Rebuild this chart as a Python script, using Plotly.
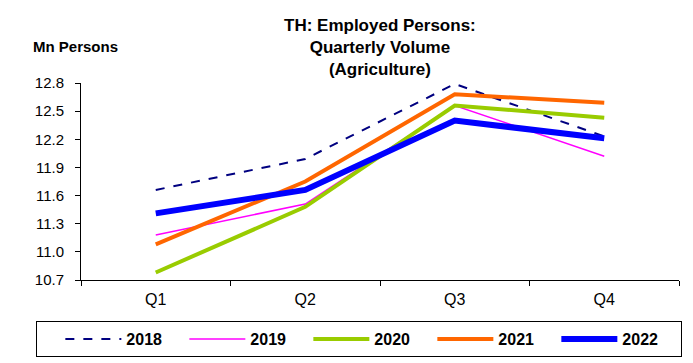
import plotly.graph_objects as go

quarters = ["Q1", "Q2", "Q3", "Q4"]
v2018 = [11.66, 11.99, 12.79, 12.23]
v2019 = [11.18, 11.51, 12.56, 12.02]
v2020 = [10.78, 11.48, 12.56, 12.43]
v2021 = [11.08, 11.75, 12.68, 12.59]
v2022 = [11.41, 11.66, 12.40, 12.21]
y_ticks = [10.7, 11.0, 11.3, 11.6, 11.9, 12.2, 12.5, 12.8]

series = [
    ("2018", v2018, dict(color="#000080", width=2, dash="dash")),
    ("2019", v2019, dict(color="#FF00FF", width=1.5)),
    ("2020", v2020, dict(color="#99CC00", width=4)),
    ("2021", v2021, dict(color="#FF6600", width=4)),
    ("2022", v2022, dict(color="#0000FF", width=6)),
]

fig = go.Figure()
for name, vals, line in series:
    fig.add_trace(go.Scatter(x=quarters, y=vals, name=name, mode="lines", line=line))

OFF = 8  # page body margin
W, H = 693 - OFF, 363 - OFF
ml, mt = 81 - OFF, 83 - OFF
mr = W - (679 - OFF)
mb = H - (280 - OFF)
pw, ph = W - ml - mr, H - mt - mb

def px(x):  # screen x -> paper
    return (x - OFF - ml) / pw

def py(y):  # screen y -> paper
    return (H - mb - (y - OFF)) / ph

font = "Liberation Sans, Arial, sans-serif"
fig.update_layout(
    width=W, height=H,
    margin=dict(l=ml, r=mr, t=mt, b=mb, autoexpand=False),
    paper_bgcolor="white", plot_bgcolor="white",
    font=dict(family=font, size=15, color="black"),
    showlegend=True,
    legend=dict(
        orientation="h", x=px(36), y=py(321), xanchor="left", yanchor="top",
        bordercolor="black", borderwidth=1,
        font=dict(family=font, size=16, color="black", weight="bold"),
        title=dict(text="&nbsp;&nbsp;&nbsp;", side="left", font=dict(size=16)),
        itemwidth=56,
        entrywidth=53, entrywidthmode="pixels",
    ),
    xaxis=dict(
        range=[-0.5, 3.5],
        showline=True, linecolor="black", linewidth=1,
        ticks="outside", ticklen=5, tickcolor="black",
        tickson="boundaries", showgrid=False, zeroline=False,
        tickfont=dict(size=16), ticklabelstandoff=5,
    ),
    yaxis=dict(
        range=[10.7, 12.8], tickvals=y_ticks,
        ticktext=[f"{v:.1f}" for v in y_ticks],
        showline=True, linecolor="black", linewidth=1,
        ticks="outside", ticklen=5, tickcolor="black",
        showgrid=False, zeroline=False,
        tickfont=dict(size=15), ticklabelstandoff=8,
    ),
    annotations=[
        dict(text="<b>TH: Employed Persons:<br>Quarterly Volume<br>(Agriculture)</b>",
             xref="paper", yref="paper", x=px(380), y=py(14), xanchor="center", yanchor="top",
             showarrow=False, font=dict(family=font, size=17, color="black")),
        dict(text="<b>Mn Persons</b>", xref="paper", yref="paper",
             x=px(31), y=py(47), xanchor="left", yanchor="middle",
             showarrow=False, font=dict(family=font, size=15, color="black")),
    ],
)

fig.write_html("out.html")
